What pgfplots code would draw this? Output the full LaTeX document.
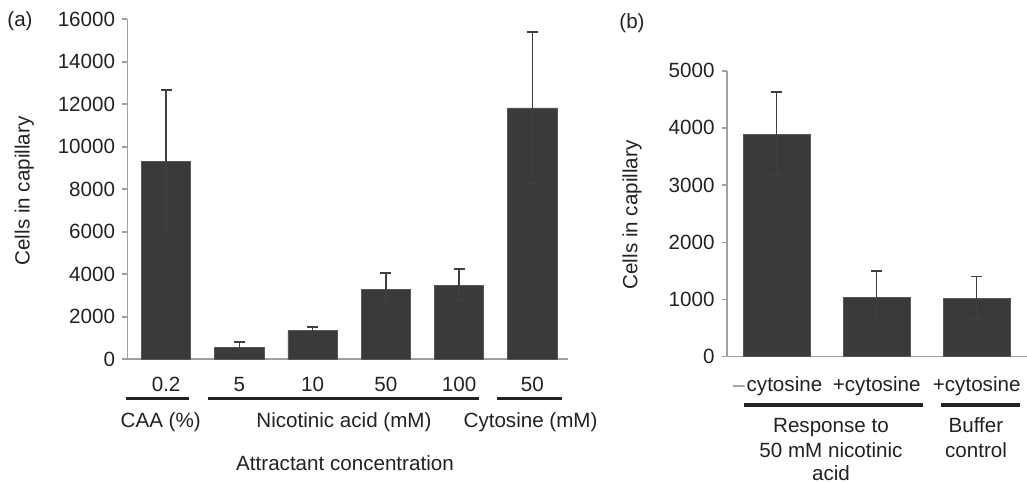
\documentclass[border=0pt]{standalone}
\usepackage{fontspec}
\setmainfont{Liberation Sans}
\usepackage{pgfplots}
\pgfplotsset{compat=1.18}

\definecolor{barfill}{HTML}{3A3A3A}
\definecolor{axgray}{HTML}{A0A0A0}
\definecolor{errc}{HTML}{3F3F3F}
\definecolor{txt}{HTML}{222222}

\newcommand\lbl{\fontsize{10.3bp}{12.4bp}\selectfont\color{txt}}

\pgfplotsset{
  panel/.style={
    scale only axis,
    ybar,
    ymin=0,
    axis x line*=bottom,
    axis y line*=left,
    axis line style={axgray, line width=0.8bp},
    tick align=outside,
    major tick length=2.6bp,
    ytick style={axgray, line width=0.8bp},
    xtick style={draw=none},
    xtick=data,
    tick label style={font=\lbl},
    /pgf/number format/assume math mode=true,
    scaled y ticks=false,
    yticklabel style={/pgf/number format/.cd, set thousands separator={}},
    clip=false,
  },
  bars/.style={
    fill=barfill, draw=barfill!85!white, line width=0.4bp,
    error bars/.cd,
      y dir=both, y explicit,
      error bar style={errc, line width=0.65bp},
      error mark options={errc, line width=0.8bp, mark size=2.7bp, rotate=90},
  },
}

\begin{document}
\begin{tikzpicture}
\useasboundingbox (0,0) rectangle (513.5bp,241.5bp);

% ---- panel (a)
\begin{axis}[panel,
  at={(63.65bp,61.85bp)}, anchor=south west,
  width=220.5bp, height=170bp,
  bar width=0.675,
  xmin=-0.53, xmax=5.49,
  ymax=16000, ytick={0,2000,...,16000},
  xticklabels={0.2,5,10,50,100,50},
  xticklabel style={anchor=base, yshift=-13.3bp},
]
\addplot[bars] coordinates {
  (0,9300)  += (0,3360) -= (0,3280)
  (1,550)   += (0,260)  -= (0,250)
  (2,1370)  += (0,160)  -= (0,150)
  (3,3300)  += (0,750)  -= (0,720)
  (4,3490)  += (0,750)  -= (0,690)
  (5,11830) += (0,3570) -= (0,3530)
};
\end{axis}

% ---- panel (b)
\begin{axis}[panel,
  at={(363.35bp,63.15bp)}, anchor=south west,
  width=150bp, height=143bp,
  bar width=0.668,
  xmin=-0.5, xmax=2.5,
  ymax=5000, ytick={0,1000,...,5000},
  xticklabels={$-$cytosine,+cytosine,+cytosine},
  xticklabel style={anchor=base, yshift=-15bp},
]
\addplot[bars] coordinates {
  (0,3890) += (0,740) -= (0,710)
  (1,1030) += (0,470) -= (0,450)
  (2,1015) += (0,390) -= (0,355)
};
\end{axis}

% annotations, in reference pixels (x from left, y from top)
\begin{scope}[x=0.5bp, y=0.5bp]
\begin{scope}[line width=1.9bp, txt]
  \draw (125.7,483-398.5) -- (189,483-398.5);
  \draw (208.3,483-398.5) -- (479.3,483-398.5);
  \draw (497.3,483-398.5) -- (562.5,483-398.5);
  \draw (744,483-405) -- (922.7,483-405);
  \draw (940.7,483-405) -- (1020,483-405);
\end{scope}

\node[font=\lbl, anchor=base, inner sep=0] at (160.7,483-427.7) {CAA (\%)};
\node[font=\lbl, anchor=base, inner sep=0] at (344,483-427.7) {Nicotinic acid (mM)};
\node[font=\lbl, anchor=base, inner sep=0] at (530.6,483-427.7) {Cytosine (mM)};
\node[font=\lbl, anchor=base, inner sep=0] at (345,483-470) {Attractant concentration};

\node[font=\lbl, anchor=base, inner sep=0] at (831,483-432.5) {Response to};
\node[font=\lbl, anchor=base, inner sep=0] at (831,483-457.5) {50 mM nicotinic};
\node[font=\lbl, anchor=base, inner sep=0] at (831,483-480.3) {acid};
\node[font=\lbl, anchor=base, inner sep=0] at (976,483-432.5) {Buffer};
\node[font=\lbl, anchor=base, inner sep=0] at (976,483-457.5) {control};

\node[font=\lbl, anchor=base, inner sep=0, rotate=90] at (29.5,483-191) {Cells in capillary};
\node[font=\lbl, anchor=base, inner sep=0, rotate=90] at (637.5,483-215) {Cells in capillary};

\node[font=\lbl, anchor=center, inner sep=0] at (20,483-21) {(a)};
\node[font=\lbl, anchor=center, inner sep=0] at (632,483-23) {(b)};
\end{scope}
\end{tikzpicture}
\end{document}
